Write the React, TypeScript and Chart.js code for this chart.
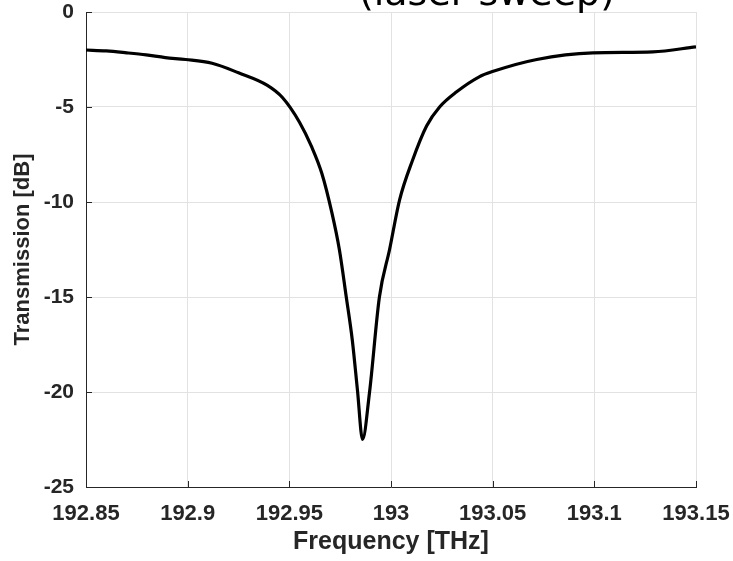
import React, { useEffect, useRef } from "react";
import { Chart, registerables } from "chart.js";

Chart.register(...registerables);

// Frequency in THz
const frequencies = [
  192.85, 192.86, 192.87, 192.8796, 192.889, 192.899, 192.912, 192.925, 192.939,
  192.9466, 192.955, 192.961, 192.966, 192.971, 192.9746, 192.978, 192.981,
  192.9835, 192.986, 192.9894, 192.9943, 192.9993, 193.0042, 193.0106, 193.0175,
  193.0239, 193.0323, 193.0436, 193.0495, 193.0717, 193.0993, 193.1288, 193.15,
];
// Transmission in dB
const transmission = [
  -2.0, -2.05, -2.15, -2.26, -2.4, -2.5, -2.7, -3.2, -3.85,
  -4.5, -5.8, -7.1, -8.5, -10.6, -12.5, -15, -17.3,
  -19.9, -22.5, -20.05, -15, -12.5, -9.9, -7.8, -6.0,
  -5.0, -4.2, -3.4, -3.15, -2.5, -2.15, -2.1, -1.83,
];

const xTicks = [192.85, 192.9, 192.95, 193, 193.05, 193.1, 193.15];
const yTicks = [0, -5, -10, -15, -20, -25];

const titleText = "(laser sweep)";
const xLabel = "Frequency [THz]";
const yLabel = "Transmission [dB]";

const AXIS_COLOR = "#262626";
const GRID_COLOR = "#e2e2e2";
const FONT = "'Liberation Sans', Arial, Helvetica, sans-serif";

const zeroScalePadding = (scale: any) => {
  scale.paddingLeft = 0;
  scale.paddingRight = 0;
  scale.paddingTop = 0;
  scale.paddingBottom = 0;
};

const innerTicksPlugin = {
  id: "innerTicks",
  afterDraw(chart: any) {
    const { ctx, chartArea, scales } = chart;
    ctx.save();
    ctx.strokeStyle = AXIS_COLOR;
    ctx.lineWidth = 1;
    ctx.beginPath();
    xTicks.forEach((v) => {
      const px = Math.round(scales.x.getPixelForValue(v)) + 0.5;
      ctx.moveTo(px, chartArea.bottom);
      ctx.lineTo(px, chartArea.bottom - 6);
    });
    yTicks.forEach((v) => {
      const py = Math.round(scales.y.getPixelForValue(v)) + 0.5;
      ctx.moveTo(chartArea.left, py);
      ctx.lineTo(chartArea.left + 6, py);
    });
    ctx.stroke();
    ctx.restore();
  },
};

const overlayTitlePlugin = {
  id: "overlayTitle",
  afterDraw(chart: any) {
    const { ctx } = chart;
    ctx.save();
    ctx.fillStyle = "#000000";
    ctx.font = "38px 'DejaVu Sans', sans-serif";
    ctx.textAlign = "center";
    ctx.textBaseline = "alphabetic";
    ctx.fillText(titleText, 487, 5);
    ctx.restore();
  },
};

export default function App() {
  const canvasRef = useRef<HTMLCanvasElement | null>(null);

  useEffect(() => {
    if (!canvasRef.current) return;
    const chart = new Chart(canvasRef.current, {
      type: "line",
      data: {
        datasets: [
          {
            data: frequencies.map((f, i) => ({ x: f, y: transmission[i] })),
            borderColor: "#000000",
            borderWidth: 3.2,
            pointRadius: 0,
            cubicInterpolationMode: "monotone",
            fill: false,
          },
        ],
      },
      options: {
        responsive: false,
        animation: false,
        layout: { padding: { top: 12, right: 37, left: 0, bottom: 0 } },
        plugins: {
          legend: { display: false },
          tooltip: { enabled: false },
          title: { display: false },
        },
        scales: {
          x: {
            type: "linear",
            min: 192.85,
            max: 193.15,
            afterBuildTicks: (scale: any) => {
              scale.ticks = xTicks.map((v) => ({ value: v }));
            },
            afterFit: (scale: any) => {
              scale.height = 74;
              zeroScalePadding(scale);
            },
            grid: { color: GRID_COLOR, lineWidth: 1, drawTicks: false },
            border: { display: true, color: AXIS_COLOR, width: 1 },
            ticks: {
              color: AXIS_COLOR,
              padding: 14,
              maxRotation: 0,
              autoSkip: false,
              font: { family: FONT, size: 22, weight: "bold" },
              callback: (v: any) => String(parseFloat(Number(v).toFixed(2))),
            },
            title: {
              display: true,
              text: xLabel,
              color: AXIS_COLOR,
              padding: { top: 0, bottom: 4 },
              font: { family: FONT, size: 25, weight: "bold" },
            },
          },
          y: {
            type: "linear",
            min: -25,
            max: 0,
            afterBuildTicks: (scale: any) => {
              scale.ticks = yTicks.map((v) => ({ value: v }));
            },
            afterFit: (scale: any) => {
              scale.width = 86;
              zeroScalePadding(scale);
            },
            grid: { color: GRID_COLOR, lineWidth: 1, drawTicks: false },
            border: { display: true, color: AXIS_COLOR, width: 1 },
            ticks: {
              color: AXIS_COLOR,
              padding: 12,
              autoSkip: false,
              font: { family: FONT, size: 21, weight: "bold" },
              callback: (v: any) => String(v),
            },
            title: {
              display: true,
              text: yLabel,
              color: AXIS_COLOR,
              padding: { top: 10, bottom: 0 },
              font: { family: FONT, size: 22, weight: "bold" },
            },
          },
        },
      },
      plugins: [innerTicksPlugin, overlayTitlePlugin],
    });
    return () => chart.destroy();
  }, []);

  return (
    <div style={{ position: "fixed", left: 0, top: 0, width: 733, height: 561, background: "#ffffff" }}>
      <canvas ref={canvasRef} width={733} height={561} style={{ display: "block" }} />
    </div>
  );
}
